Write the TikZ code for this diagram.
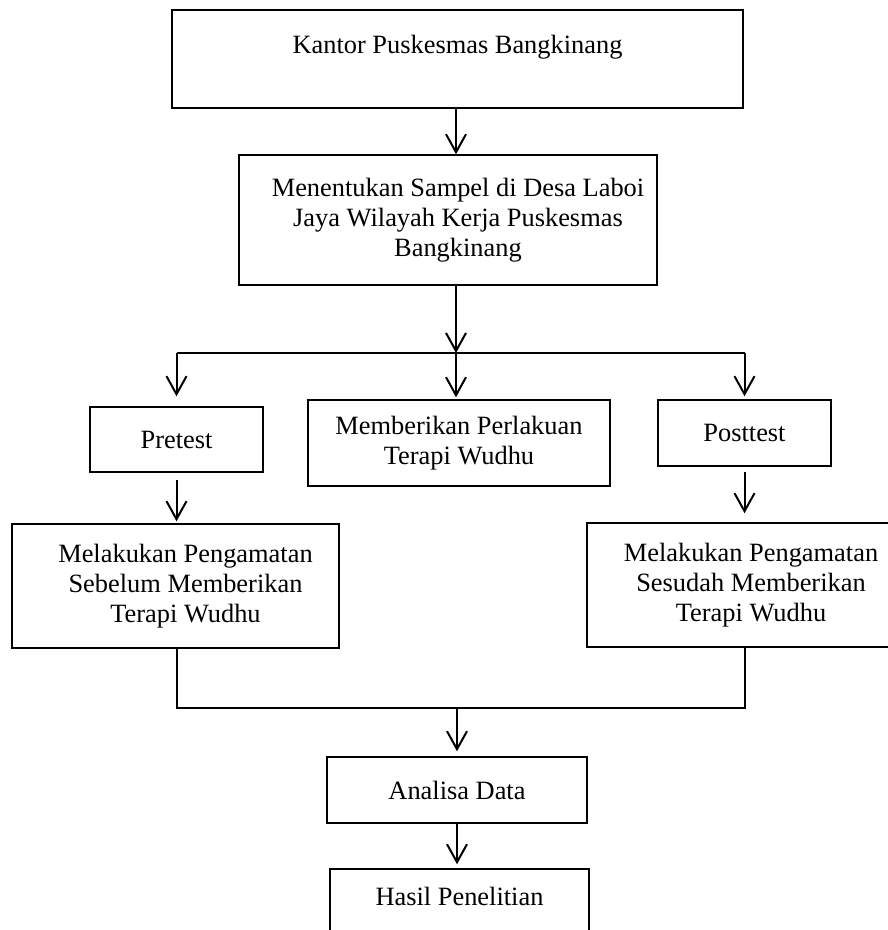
\documentclass[tikz,border=0pt]{standalone}
\usepackage{fontspec}
\setmainfont{Liberation Serif}
\usetikzlibrary{arrows.meta,positioning}

\begin{document}
\begin{tikzpicture}[x=1pt,y=-1pt,
    box/.style={draw, line width=1.5pt, align=center, inner sep=0pt,
        font=\fontsize{26.4}{30}\selectfont},
    arr/.style={-{Straight Barb[length=18pt,width=20pt]}, line width=2pt},
    link/.style={line width=2pt}]
    \useasboundingbox (0,0) rectangle (888,930);
    \clip (0,0) rectangle (888,930);

    % Boxes
    \node[box, minimum width=571pt, minimum height=98pt] (kantor) at (457.5,59) {Kantor Puskesmas Bangkinang\\[-10pt] \strut};
    \node[box, minimum width=418pt, minimum height=130pt] (sampel) at (448,220) {\hspace*{20pt}Menentukan Sampel di Desa Laboi\\\hspace*{20pt}Jaya Wilayah Kerja Puskesmas\\\hspace*{20pt}Bangkinang};
    \node[box, minimum width=173pt, minimum height=65pt] (pretest) at (176.5,439.5) {Pretest};
    \node[box, minimum width=302pt, minimum height=86pt] (perlakuan) at (459,443) {Memberikan Perlakuan\\Terapi Wudhu};
    \node[box, minimum width=173pt, minimum height=66pt] (posttest) at (744.5,433) {Posttest};
    \node[box, minimum width=327pt, minimum height=124pt] (sebelum) at (175.5,586) {\hspace*{20pt}Melakukan Pengamatan\\\hspace*{20pt}Sebelum Memberikan\\\hspace*{20pt}Terapi Wudhu};
    \node[box, minimum width=328pt, minimum height=124pt] (sesudah) at (751,585) {Melakukan Pengamatan\\Sesudah Memberikan\\Terapi Wudhu};
    \node[box, minimum width=260pt, minimum height=66pt] (analisa) at (457,790) {Analisa Data};
    \node[box, minimum width=259pt, minimum height=80pt] (hasil) at (459.5,909) {Hasil Penelitian\\[-14pt] \strut};

    % Branch points
    \coordinate (split) at (456,353);
    \coordinate (join) at (457,708);

    % Top chain
    \draw[arr] (split |- kantor.south) -- (split |- sampel.north);
    \draw[arr] (split |- sampel.south) -- (split);
    \draw[link] (pretest.north |- split) -- (posttest.north |- split);

    % Three branches
    \draw[arr, shorten >=10pt] (pretest.north |- split) -- (pretest.north);
    \draw[arr, shorten >=2pt] (split) -- (split |- perlakuan.north);
    \draw[arr, shorten >=3pt] (posttest.north |- split) -- (posttest.north);

    % Observations
    \draw[arr, shorten <=7pt, shorten >=2pt] (pretest.south) -- (pretest.south |- sebelum.north);
    \draw[arr, shorten <=5pt, shorten >=9pt] (posttest.south) -- (posttest.south |- sesudah.north);

    % Join and result
    \draw[link] (pretest.south |- sebelum.south) |- (join) -| (posttest.south |- sesudah.south);
    \draw[arr, shorten >=5pt] (join) -- (join |- analisa.north);
    \draw[arr, shorten >=4pt] (analisa.south) -- (analisa.south |- hasil.north);
\end{tikzpicture}
\end{document}
